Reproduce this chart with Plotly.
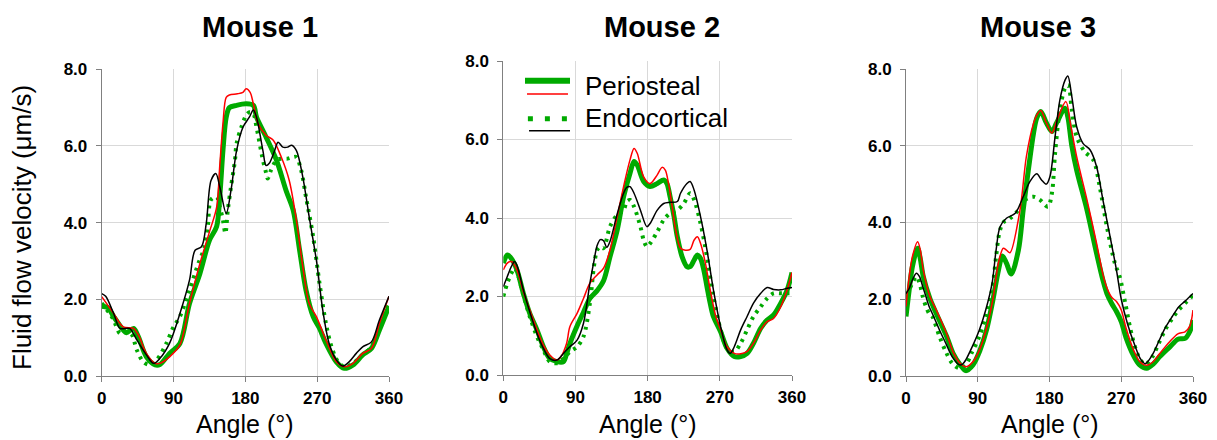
import plotly.graph_objects as go

# ---------------- data (angle in degrees, velocity in um/s) ----------------
# Mouse 1
m1_peri_green_ang = [0,8,15,27,31,40,46,56,67,73,85,98,110,123,135,144,148,152,156,160,169,181,190,194,206,219,231,240,248,256,265,273,281,294,304,315,327,338,348,360]
m1_peri_green_val = [1.82,1.78,1.55,1.2,1.13,1.24,1.02,0.5,0.29,0.3,0.59,0.85,1.89,2.67,3.54,3.9,4.7,5.9,6.75,7.0,7.06,7.1,7.06,6.75,6.23,5.63,4.84,4.32,3.28,2.24,1.55,1.24,0.85,0.37,0.2,0.29,0.55,0.72,1.2,1.82]
m1_peri_red_ang = [0,15,27,40,46,56,67,73,85,98,110,123,135,144,148,152,156,160,170,177,181,186,190,196,206,215,225,235,244,252,260,269,281,294,304,315,327,338,348,360]
m1_peri_red_val = [2.07,1.63,1.28,1.24,1.07,0.59,0.33,0.33,0.5,0.81,1.89,2.93,3.76,4.4,5.5,6.6,7.27,7.33,7.36,7.4,7.49,7.4,7.1,6.58,6.28,6.15,5.71,5.1,4.06,2.85,1.89,1.55,0.94,0.37,0.24,0.33,0.59,0.72,1.37,2.08]
m1_endo_green_ang = [0,10,15,23,28,37,44,52,60,69,81,90,98,110,121,129,133,137,144,148,152,155,158,162,167,169,175,181,185,190,194,202,206,208,212,219,225,233,240,244,250,256,265,273,281,288,296,304,315,327,338,348,360]
m1_endo_green_val = [1.9,1.63,1.46,1.11,1.15,1.1,0.68,0.37,0.29,0.42,0.85,1.28,1.55,2.24,2.93,3.37,3.9,4.6,4.67,4.41,4.06,3.72,4.32,4.93,5.63,6.06,6.49,6.8,6.88,6.84,6.49,5.63,5.3,5.15,5.36,5.63,5.67,5.67,5.71,5.71,5.36,4.67,3.63,2.41,1.37,0.76,0.37,0.24,0.33,0.55,0.76,1.28,1.89]
m1_endo_black_ang = [0,5,15,23,35,44,56,65,73,85,98,110,117,125,131,137,143,148,156,162,169,177,185,190,194,202,206,210,216,221,227,233,238,244,252,260,269,277,285,294,302,310,319,327,338,348,360]
m1_endo_black_val = [2.15,2.08,1.63,1.24,1.24,0.94,0.55,0.33,0.46,0.85,1.63,2.5,3.28,3.37,3.98,5.1,5.28,4.93,4.24,4.84,5.88,6.49,6.75,6.94,6.75,5.88,5.49,5.55,5.84,6.1,5.97,5.97,6.02,5.88,5.19,4.15,3.02,1.72,0.85,0.42,0.26,0.37,0.59,0.76,0.89,1.46,2.08]

# Mouse 2
m2_peri_green_ang = [0,5,10,17,25,33,42,50,58,67,75,79,83,92,100,108,117,125,133,142,150,158,163,167,175,183,192,200,204,208,213,217,223,229,233,238,242,246,250,254,258,262,271,279,288,296,304,312,321,329,337,346,354,360]
m2_peri_green_val = [2.85,3.06,2.97,2.68,2.08,1.57,1.15,0.72,0.42,0.34,0.34,0.55,0.8,1.25,1.6,1.95,2.15,2.4,3.01,3.69,4.54,5.14,5.44,5.35,4.93,4.8,4.88,4.97,4.88,4.54,4.03,3.52,3.01,2.76,2.76,2.93,3.06,2.97,2.68,2.25,1.83,1.49,1.1,0.68,0.47,0.47,0.55,0.81,1.19,1.4,1.53,1.83,2.17,2.61]
m2_peri_red_ang = [0,5,10,17,25,33,42,50,58,67,72,79,83,92,100,108,117,125,133,142,150,158,163,167,175,183,192,198,202,206,210,215,221,227,233,238,242,246,252,258,265,271,279,288,296,304,312,321,329,337,346,354,360]
m2_peri_red_val = [2.68,2.85,2.89,2.68,2.12,1.66,1.15,0.76,0.51,0.38,0.47,0.81,1.23,1.57,1.95,2.34,2.55,2.72,3.18,4.03,4.8,5.48,5.77,5.65,5.05,4.88,5.1,5.29,5.22,4.88,4.37,3.69,3.23,3.18,3.2,3.44,3.52,3.35,2.85,2.17,1.49,1.15,0.72,0.55,0.54,0.6,0.81,1.15,1.36,1.44,1.74,2.17,2.61]
m2_endo_green_ang = [0,5,10,14,17,25,33,42,50,58,67,75,83,92,100,108,113,117,121,125,133,142,150,154,158,163,171,175,179,183,192,200,208,217,225,233,238,246,254,262,271,279,288,296,304,312,321,329,337,346,354,360]
m2_endo_green_val = [2.0,2.34,2.59,2.72,2.63,2.04,1.49,0.98,0.64,0.34,0.3,0.42,0.59,0.72,0.98,1.83,2.76,3.18,3.27,3.23,3.78,4.08,4.2,4.42,4.46,4.29,3.78,3.44,3.27,3.35,3.65,3.95,4.12,4.2,4.37,4.63,4.46,3.86,3.01,2.0,1.15,0.68,0.59,0.81,1.15,1.49,1.74,1.95,2.08,2.08,2.08,2.08]
m2_endo_black_ang = [0,5,10,14,17,25,33,42,50,58,67,75,83,92,100,108,113,117,121,125,129,133,142,150,154,158,163,171,179,183,192,200,208,217,221,229,233,238,246,254,262,271,279,283,288,296,304,312,321,329,337,346,354,360]
m2_endo_black_val = [2.25,2.51,2.76,2.89,2.8,2.17,1.61,1.06,0.68,0.42,0.38,0.55,0.72,0.89,1.32,2.34,2.9,3.3,3.45,3.42,3.25,3.4,4.1,4.63,4.78,4.8,4.63,4.2,3.78,3.86,4.2,4.37,4.4,4.42,4.63,4.88,4.93,4.71,4.03,3.18,2.17,1.23,0.64,0.55,0.72,1.15,1.49,1.83,2.08,2.23,2.18,2.17,2.21,2.23]

# Mouse 3
m3_peri_green_ang = [0,4,8,14.6,18,21.7,30,38,51,59,68,75,84,93,101,109,116,121,126,132,141,147,153.5,160,164,169,176,183,189,199.5,203,208,214,227,239,247,252,258,264,270,276,285,293,302,310,318,331,341,350,356,360]
m3_peri_green_val = [1.55,2.24,2.85,3.33,3.05,2.59,2.02,1.63,1.03,0.59,0.29,0.14,0.29,0.68,1.2,1.98,2.76,3.13,2.94,2.66,3.28,4.33,5.37,6.33,6.72,6.89,6.6,6.37,6.6,6.98,6.75,6.0,5.37,4.33,3.2,2.5,2.15,1.89,1.68,1.42,1.0,0.55,0.29,0.2,0.31,0.5,0.76,0.96,0.98,1.16,1.46]
m3_peri_red_ang = [0,4,8,14.6,18,21.7,30,38,51,59,68,75,84,93,101,109,116,122,126,130.4,143,151,160,164,169,176,183,190,200.6,206,214,227,239,247,252,258,264,270,276,285,293,302,310,318,331,341,350,356,360]
m3_peri_red_val = [1.81,2.59,3.11,3.5,3.28,2.76,2.07,1.72,1.1,0.63,0.33,0.24,0.37,0.72,1.25,2.0,2.95,3.33,3.28,3.21,4.33,5.72,6.59,6.8,6.92,6.6,6.33,6.7,7.15,6.6,5.72,4.59,3.46,2.65,2.3,2.05,1.94,1.72,1.25,0.7,0.38,0.28,0.37,0.58,0.9,1.1,1.15,1.3,1.72]
m3_endo_green_ang = [0,4,8,13,17,21,25,29,33,42,50,58,67,75,83,92,100,108,113,117,122,130,140,150,160,168,178,183,187,193,199.5,203.5,208,214,224,235,243,252,262,268,275,284,292,300,309,317,325,334,342,350,360]
m3_endo_green_val = [1.9,2.24,2.42,2.59,2.42,2.07,1.81,1.63,1.55,1.03,0.63,0.33,0.2,0.29,0.63,1.03,1.55,2.24,3.11,3.72,4.0,4.1,4.3,4.6,4.67,4.59,4.41,4.76,5.8,6.93,7.5,7.58,6.93,6.24,5.85,5.63,4.93,3.89,2.94,2.59,1.9,1.0,0.5,0.3,0.5,0.85,1.2,1.5,1.72,1.89,2.11]
m3_endo_black_ang = [0,4,8,13,17,21,25,29,33,42,50,58,67,71,75,83,92,100,108,113,118,126,137,147,155.5,164,170,176,180.6,187,193,199.5,203,208,214,222,231,239,247,256,264,270,278,287,294,300,309,317,325,334,342,350,360]
m3_endo_black_val = [2.15,2.28,2.5,2.68,2.59,2.33,2.07,1.81,1.63,1.2,0.85,0.5,0.29,0.31,0.42,0.76,1.2,1.72,2.42,3.28,3.89,4.11,4.24,4.67,5.07,5.27,5.11,5.0,5.2,6.24,7.19,7.71,7.82,7.28,6.5,6.06,5.89,5.46,4.59,3.63,2.76,2.0,1.35,0.8,0.45,0.32,0.55,0.9,1.25,1.55,1.8,1.95,2.15]

panel_titles = ["Mouse 1", "Mouse 2", "Mouse 3"]
x_ticks = [0, 90, 180, 270, 360]
y_ticks = [0, 2, 4, 6, 8]
legend_labels = ["Periosteal", "Endocortical"]

# ---------------- styling ----------------
FONT = "Liberation Sans, Arial, sans-serif"
GREEN = "#00AA00"
RED = "#FF0000"
BLACK = "#000000"
W, H = 1217, 440

# panel pixel boxes: (left, right, top, bottom)
boxes = [(101.7, 389, 69.3, 376), (503.3, 792, 61, 375), (906, 1193, 69, 376)]

fig = go.Figure()

series = [
    (m1_peri_green_ang, m1_peri_green_val, m1_endo_green_ang, m1_endo_green_val,
     m1_peri_red_ang, m1_peri_red_val, m1_endo_black_ang, m1_endo_black_val),
    (m2_peri_green_ang, m2_peri_green_val, m2_endo_green_ang, m2_endo_green_val,
     m2_peri_red_ang, m2_peri_red_val, m2_endo_black_ang, m2_endo_black_val),
    (m3_peri_green_ang, m3_peri_green_val, m3_endo_green_ang, m3_endo_green_val,
     m3_peri_red_ang, m3_peri_red_val, m3_endo_black_ang, m3_endo_black_val),
]

styles = [
    dict(color=GREEN, width=5),
    dict(color=GREEN, width=4, dash="3px,5px"),
    dict(color=RED, width=1.5),
    dict(color=BLACK, width=1.5),
]

for i, s in enumerate(series):
    xa = "x" if i == 0 else f"x{i+1}"
    ya = "y" if i == 0 else f"y{i+1}"
    for k in range(4):
        ang, val = s[2 * k], s[2 * k + 1]
        if len(ang) != len(val):
            print("length mismatch", i, k, len(ang), len(val))
        fig.add_trace(go.Scatter(
            x=ang, y=val, mode="lines", xaxis=xa, yaxis=ya,
            line=dict(shape="spline", smoothing=0.9, **styles[k]),
            showlegend=False, hoverinfo="skip"))

axis_common = dict(
    showline=True, linecolor="#808080", linewidth=1,
    ticks="outside", ticklen=5, tickcolor="#808080", tickwidth=1,
    showgrid=True, gridcolor="#D9D9D9", gridwidth=1, zeroline=False,
    automargin=False,
    tickfont=dict(family=FONT, size=17, color="black", weight="bold"),
)

layout = dict(
    width=W, height=H, margin=dict(l=0, r=0, t=0, b=0, autoexpand=False),
    paper_bgcolor="white", plot_bgcolor="white", showlegend=False,
    font=dict(family=FONT, color="black"),
)
annotations = []
for i, (l, r, t, b) in enumerate(boxes):
    sx = "" if i == 0 else str(i + 1)
    layout[f"xaxis{sx}"] = dict(
        domain=[l / W, r / W], range=[0, 360], tickvals=x_ticks,
        anchor=f"y{sx}", ticklabelstandoff=2, **axis_common)
    layout[f"yaxis{sx}"] = dict(
        domain=[1 - b / H, 1 - t / H], range=[0, 8], tickvals=y_ticks,
        tickformat=".1f", anchor=f"x{sx}", ticklabelstandoff=5, **axis_common)
    cx = (l + r) / 2
    title_x = [260, 662, 1038][i]
    annotations.append(dict(
        text=panel_titles[i], x=title_x / W, y=1 - 27 / H, xref="paper", yref="paper",
        showarrow=False, xanchor="center", yanchor="middle",
        font=dict(family=FONT, size=29, weight="bold", color="black")))
    annotations.append(dict(
        text="Angle (°)", x=cx / W, y=1 - 424 / H, xref="paper", yref="paper",
        showarrow=False, xanchor="center", yanchor="middle",
        font=dict(family=FONT, size=25, color="black")))

annotations.append(dict(
    text="Fluid flow velocity (μm/s)", x=22 / W, y=1 - 228 / H,
    xref="paper", yref="paper", showarrow=False, textangle=-90,
    xanchor="center", yanchor="middle",
    font=dict(family=FONT, size=26, color="black")))

# legend (drawn inside Mouse 2 panel, in its domain coordinates)
lx0, lx1 = (525 - 503.3) / 288.7, (570 - 503.3) / 288.7
def ly(py):
    return (375 - py) / 314.0

shapes = [
    dict(type="line", xref="x2 domain", yref="y2 domain", x0=lx0, x1=lx1,
         y0=ly(80.7), y1=ly(80.7), line=dict(color=GREEN, width=6)),
    dict(type="line", xref="x2 domain", yref="y2 domain", x0=lx0 + 0.007, x1=lx1 - 0.007,
         y0=ly(94), y1=ly(94), line=dict(color=RED, width=1.5)),
    dict(type="line", xref="x2 domain", yref="y2 domain", x0=lx0 + 0.01, x1=lx1,
         y0=ly(118.7), y1=ly(118.7), line=dict(color=GREEN, width=5, dash="5px,12px")),
    dict(type="line", xref="x2 domain", yref="y2 domain", x0=lx0 + 0.014, x1=lx1,
         y0=ly(130.7), y1=ly(130.7), line=dict(color=BLACK, width=1.5)),
]
for lab, py in zip(legend_labels, [86, 118]):
    annotations.append(dict(
        text=lab, x=(583 - 503.3) / 288.7, y=ly(py), xref="x2 domain", yref="y2 domain",
        showarrow=False, xanchor="left", yanchor="middle",
        font=dict(family=FONT, size=26, color="black")))

layout["annotations"] = annotations
layout["shapes"] = shapes
fig.update_layout(**layout)
fig.write_html("out.html", config={"displayModeBar": False},
               post_script="document.body.style.margin='0px';document.body.style.overflow='hidden';")
